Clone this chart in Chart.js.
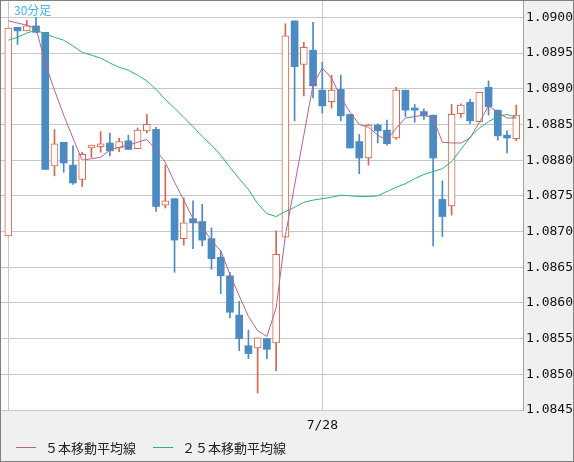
<!DOCTYPE html>
<html>
<head>
<meta charset="utf-8">
<script src="https://cdn.jsdelivr.net/npm/chart.js@4"></script>
<style>
	html, body { margin: 0; padding: 0; background: #f0f0f0; }
	canvas { display: block; }
</style>
</head>
<body>
<canvas id="graficoVelas" width="574" height="462"></canvas>
<script>
// 30分足 7/27 07:00 - 7/28 10:30
var times = ['7/27 07:00','7/27 07:30','7/27 08:00','7/27 08:30','7/27 09:00','7/27 09:30','7/27 10:00','7/27 10:30',
	'7/27 11:00','7/27 11:30','7/27 12:00','7/27 12:30','7/27 13:00','7/27 13:30','7/27 14:00','7/27 14:30',
	'7/27 15:00','7/27 15:30','7/27 16:00','7/27 16:30','7/27 17:00','7/27 17:30','7/27 18:00','7/27 18:30',
	'7/27 19:00','7/27 19:30','7/27 20:00','7/27 20:30','7/27 21:00','7/27 21:30','7/27 22:00','7/27 22:30',
	'7/27 23:00','7/27 23:30','7/28 00:00','7/28 00:30','7/28 01:00','7/28 01:30','7/28 02:00','7/28 02:30',
	'7/28 03:00','7/28 03:30','7/28 04:00','7/28 04:30','7/28 05:00','7/28 05:30','7/28 06:00','7/28 06:30',
	'7/28 07:00','7/28 07:30','7/28 08:00','7/28 08:30','7/28 09:00','7/28 09:30','7/28 10:00','7/28 10:30'];

var opens = [1.08694,1.08986,1.08981,1.08988,1.08979,1.08792,1.08825,1.08793,1.08773,1.08817,1.08819,1.08824,1.08817,1.08827,
	1.08816,1.08841,1.08843,1.08737,1.08746,1.08690,1.08718,1.08714,1.08690,1.08664,1.08638,1.08583,1.08540,1.08537,
	1.08550,1.08544,1.08692,1.08995,1.08934,1.08954,1.08898,1.08882,1.08899,1.08864,1.08826,1.08803,1.08849,1.08842,
	1.08831,1.08898,1.08873,1.08868,1.08863,1.08745,1.08736,1.08865,1.08881,1.08854,1.08902,1.08870,1.08835,1.08830];

var highs = [1.08985,1.08986,1.08996,1.09000,1.08979,1.08843,1.08825,1.08820,1.08811,1.08821,1.08840,1.08838,1.08831,1.08835,
	1.08845,1.08864,1.08846,1.08793,1.08746,1.08747,1.08743,1.08738,1.08705,1.08673,1.08643,1.08602,1.08562,1.08551,
	1.08550,1.08701,1.08991,1.08995,1.08965,1.08993,1.08937,1.08919,1.08919,1.08864,1.08836,1.08850,1.08851,1.08856,
	1.08902,1.08898,1.08878,1.08872,1.08863,1.08771,1.08878,1.08879,1.08885,1.08895,1.08911,1.08870,1.08841,1.08877];

var lows = [1.08694,1.08962,1.08981,1.08979,1.08787,1.08778,1.08783,1.08766,1.08763,1.08804,1.08811,1.08806,1.08812,1.08815,
	1.08816,1.08838,1.08728,1.08733,1.08643,1.08681,1.08676,1.08680,1.08647,1.08613,1.08579,1.08533,1.08522,1.08474,
	1.08522,1.08505,1.08692,1.08855,1.08890,1.08887,1.08866,1.08873,1.08855,1.08817,1.08781,1.08793,1.08824,1.08821,
	1.08829,1.08861,1.08853,1.08857,1.08680,1.08693,1.08723,1.08860,1.08851,1.08854,1.08863,1.08828,1.08810,1.08827];

var closes = [1.08985,1.08981,1.08988,1.08979,1.08787,1.08823,1.08796,1.08768,1.08808,1.08821,1.08823,1.08813,1.08826,1.08815,
	1.08842,1.08850,1.08735,1.08743,1.08688,1.08712,1.08712,1.08688,1.08662,1.08638,1.08587,1.08550,1.08529,1.08551,
	1.08535,1.08668,1.08974,1.08931,1.08958,1.08904,1.08876,1.08898,1.08862,1.08817,1.08803,1.08849,1.08841,1.08823,
	1.08898,1.08870,1.08870,1.08862,1.08803,1.08721,1.08864,1.08877,1.08855,1.08895,1.08875,1.08834,1.08831,1.08863];

var ma5 = [1.08995,1.08992,1.08989,1.08985,1.08936,1.08898,1.08863,1.08831,1.08800,1.08802,1.08804,1.08814,1.08818,1.08821,
	1.08825,1.08829,1.08814,1.08797,1.08769,1.08744,1.08718,1.08707,1.08687,1.08673,1.08640,1.08610,1.08581,1.08561,
	1.08553,1.08593,1.08694,1.08765,1.08835,1.08906,1.08929,1.08915,1.08888,1.08867,1.08850,1.08846,1.08835,1.08828,
	1.08845,1.08859,1.08861,1.08863,1.08859,1.08825,1.08824,1.08824,1.08831,1.08853,1.08876,1.08867,1.08859,1.08859];

var ma25 = [1.08968,1.08972,1.08978,1.08982,1.08977,1.08972,1.08968,1.08960,1.08951,1.08947,1.08943,1.08936,1.08930,1.08926,
	1.08919,1.08911,1.08899,1.08885,1.08873,1.08860,1.08847,1.08833,1.08821,1.08807,1.08790,1.08774,1.08759,1.08739,
	1.08725,1.08721,1.08728,1.08734,1.08741,1.08744,1.08746,1.08748,1.08751,1.08750,1.08749,1.08749,1.08750,1.08756,
	1.08762,1.08767,1.08774,1.08780,1.08784,1.08788,1.08798,1.08815,1.08832,1.08845,1.08854,1.08861,1.08864,1.08860];

var yTicks = [1.0845,1.0850,1.0855,1.0860,1.0865,1.0870,1.0875,1.0880,1.0885,1.0890,1.0895,1.0900];

// linhas verticais: início do dia (7:00) e mudança de data
var xTicks = [{ at: '7/27 07:00', label: '' }, { at: '7/28 00:00', label: '7/28' }];

var titulo = '30分足';

var COR_ALTA = '#d9674a';
var COR_BAIXA = '#4b8bc3';

var Velas = Velas || {};

Velas.Grafico = (function() {

	function Grafico() {
		this.ctx = document.getElementById('graficoVelas').getContext('2d');
	}

	Grafico.prototype.iniciar = function() {
		var sobe = closes.map(function(c, i) { return c >= opens[i]; });

		var pavios = times.map(function(t, i) { return { x: i, y: [lows[i], highs[i]] }; });
		var corpos = times.map(function(t, i) { return { x: i, y: [opens[i], closes[i]] }; });
		var linha5 = ma5.map(function(v, i) { return { x: i, y: v }; });
		var linha25 = ma25.map(function(v, i) { return { x: i, y: v }; });

		var semPadding = function(scale) {
			scale.paddingTop = 0;
			scale.paddingBottom = 0;
			scale.paddingLeft = 0;
			scale.paddingRight = 0;
		};

		var fundo = {
			id: 'fundo',
			beforeDraw: function(chart) {
				var c = chart.ctx, a = chart.chartArea;
				c.save();
				c.fillStyle = '#f0f0f0';
				c.fillRect(0, 0, chart.width, chart.height);
				c.fillStyle = '#ffffff';
				c.fillRect(a.left, a.top, a.right - a.left, a.bottom - a.top);
				c.restore();
			},
			afterDraw: function(chart) {
				var c = chart.ctx;
				c.save();
				c.strokeStyle = '#808080';
				c.lineWidth = 1;
				c.strokeRect(0.5, 0.5, chart.width - 1, chart.height - 1);

				c.font = '12px "Noto Sans CJK JP"';
				c.fillStyle = '#3fb2ea';
				c.textBaseline = 'middle';
				c.fillText(titulo, 14, 10);

				// legenda
				var ds = chart.data.datasets;
				var pos = [16, 153];
				c.font = '13px "Noto Sans CJK JP"';
				for (var k = 0; k < 2; k++) {
					c.strokeStyle = ds[k].borderColor;
					c.beginPath();
					c.moveTo(pos[k], 447.5);
					c.lineTo(pos[k] + 20, 447.5);
					c.stroke();
					c.fillStyle = '#222';
					c.fillText(ds[k].label, pos[k] + 29, 448);
				}
				c.restore();
			}
		};

		new Chart(this.ctx, {
			type: 'bar',
			data: {
				datasets: [{
					type: 'line',
					label: '５本移動平均線',
					data: linha5,
					borderColor: '#b8638e',
					borderWidth: 1,
					pointRadius: 0,
					tension: 0
				}, {
					type: 'line',
					label: '２５本移動平均線',
					data: linha25,
					borderColor: '#2bb673',
					borderWidth: 1,
					pointRadius: 0,
					tension: 0
				}, {
					label: 'corpo',
					data: corpos,
					grouped: false,
					barThickness: 7,
					borderSkipped: false,
					backgroundColor: sobe.map(function(s) { return s ? '#ffffff' : COR_BAIXA; }),
					borderColor: sobe.map(function(s) { return s ? COR_ALTA : COR_BAIXA; }),
					borderWidth: sobe.map(function(s) { return s ? 1 : 0; })
				}, {
					label: 'pavio',
					data: pavios,
					grouped: false,
					barThickness: 1,
					borderSkipped: false,
					borderWidth: 0,
					backgroundColor: sobe.map(function(s) { return s ? COR_ALTA : COR_BAIXA; })
				}]
			},
			options: {
				responsive: false,
				animation: false,
				devicePixelRatio: 1,
				events: [],
				layout: { padding: { left: 1, top: 0, right: 0, bottom: 0 } },
				plugins: {
					legend: { display: false },
					tooltip: { enabled: false },
					title: { display: false }
				},
				scales: {
					x: {
						type: 'linear',
						offset: false,
						min: -0.79,
						max: 55.73,
						afterBuildTicks: function(scale) {
							scale.ticks = xTicks.map(function(t) { return { value: times.indexOf(t.at) }; });
						},
						afterFit: function(scale) {
							scale.height = 52;
							semPadding(scale);
						},
						grid: { color: '#c8c8c8', drawTicks: false, offset: false },
						border: { display: false },
						ticks: {
							autoSkip: false,
							maxRotation: 0,
							padding: 8,
							color: '#111',
							font: { family: 'DejaVu Sans Mono', size: 13 },
							callback: function(value) {
								var t = xTicks.filter(function(x) { return times.indexOf(x.at) === value; })[0];
								return t ? t.label : '';
							}
						}
					},
					y: {
						position: 'right',
						min: 1.0845,
						max: 1.090243,
						afterBuildTicks: function(scale) {
							scale.ticks = yTicks.map(function(v) { return { value: v }; });
						},
						afterFit: function(scale) {
							scale.width = 51;
							semPadding(scale);
						},
						grid: { color: '#c8c8c8', drawTicks: false },
						border: { display: true, color: '#a0a0a0' },
						ticks: {
							padding: 3,
							color: '#111',
							font: { family: 'DejaVu Sans Mono', size: 13 },
							callback: function(value) { return value.toFixed(4); }
						}
					}
				}
			},
			plugins: [fundo]
		});
	};

	return Grafico;

})();

new Velas.Grafico().iniciar();
</script>
</body>
</html>
